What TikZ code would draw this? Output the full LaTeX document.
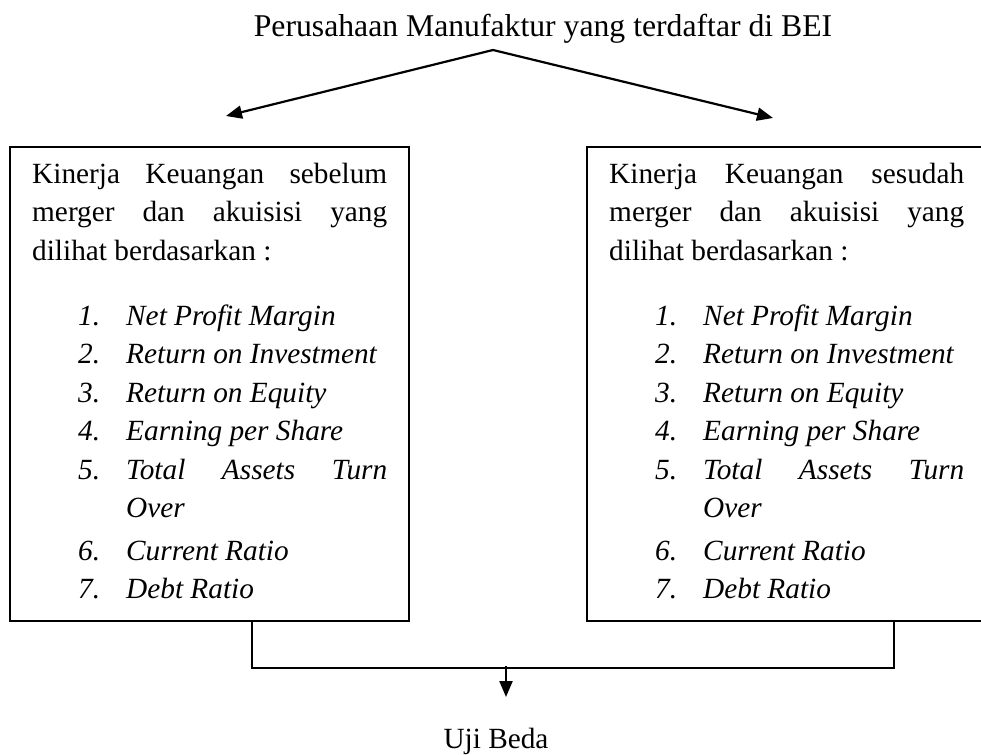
\documentclass[tikz,border=0pt]{standalone}
\usepackage{fontspec}
\setmainfont{Liberation Serif}
\usetikzlibrary{arrows.meta}

\begin{document}
\begin{tikzpicture}[x=1pt,y=-1pt,
	kotak/.style={draw,line width=1.7pt,minimum width=399pt,minimum height=474pt,inner sep=0pt,anchor=north west},
	teks/.style={anchor=base west,inner sep=0pt,font=\fontsize{29.3}{38.5}\selectfont},
	butir/.style={teks,font=\fontsize{29.3}{38.5}\selectfont\itshape},
	garis/.style={line width=1.7pt},
	panah/.style={line width=2.2pt,-{Triangle[length=16pt,width=13pt]}}]
		\useasboundingbox (0,0) rectangle (981,754);
		\clip (0,0) rectangle (981,754);
		
		\node[anchor=base,inner sep=0pt,font=\fontsize{31.7}{38}\selectfont] (bei) at (543,37) {Perusahaan Manufaktur yang terdaftar di BEI};
		\coordinate (puncak) at (493,50);
		\coordinate (ujungkiri) at (226,116);
		\coordinate (ujungkanan) at (773,118);
		\draw[panah] (puncak) -- (ujungkiri);
		\draw[panah] (puncak) -- (ujungkanan);
		
		\foreach \x/\w/\n in{0/sebelum/kiri,577/sesudah/kanan}{
			\node[kotak] (\n) at (9+\x,146) {};
			\node[teks] (\n-p1) at (32+\x,183) {\makebox[355pt][s]{Kinerja Keuangan \w}};
			\node[teks] (\n-p2) at (32+\x,221.5) {\makebox[355pt][s]{merger dan akuisisi yang}};
			\node[teks] (\n-p3) at (32+\x,260) {dilihat berdasarkan :};
			\foreach \i/\y/\t in{1/325/Net Profit Margin,2/363.5/Return on Investment,3/402/Return on Equity,4/440.5/Earning per Share,5/479/{\makebox[261pt][s]{Total Assets Turn}},6/560/Current Ratio,7/598.5/Debt Ratio}{
				\node[butir] (\n-no\i) at (78+\x,\y) {\i.};
				\node[butir] (\n-t\i) at (126+\x,\y) {\t};
			}
			\node[butir] (\n-t5b) at (126+\x,517.5) {Over};
		}
		
		\coordinate (gabung) at (506,666);
		\coordinate (ujungbawah) at (506,697);
		\draw[garis] ([xshift=243pt]kiri.south west) -- ++(0,46) -| ([xshift=308pt]kanan.south west);
		\draw[panah] (gabung) -- (ujungbawah);
		\node[teks,anchor=base] (uji) at (496,748) {Uji Beda};
	\end{tikzpicture}
\end{document}
